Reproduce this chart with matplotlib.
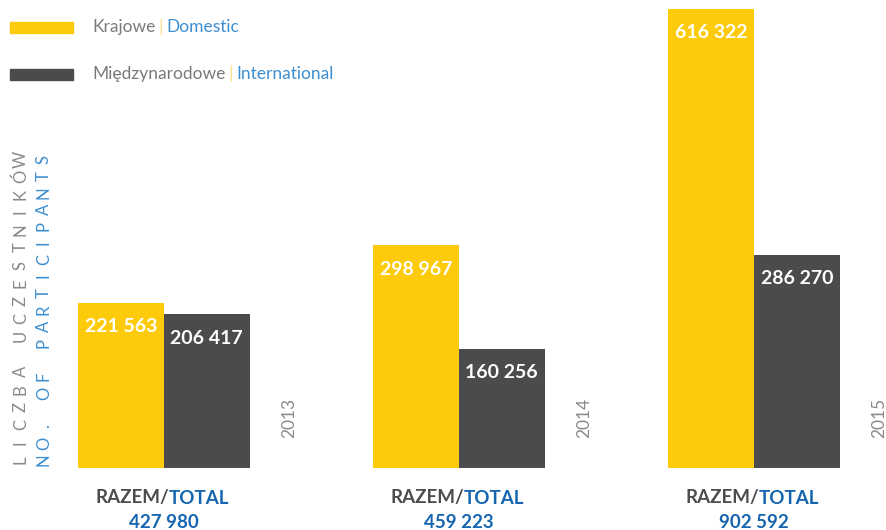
import numpy as np
import matplotlib as mpl
mpl.use('Agg')
import matplotlib.pyplot as plt  # NOQA

years = ['2013', '2014', '2015']
domestic = [221563, 298967, 616322]
international = [206417, 160256, 286270]
totals = [427980, 459223, 902592]

YELLOW = '#fdcb0a'
DARK = '#4b4b4d'
BLUE = '#1565b0'
LIGHT_BLUE = '#3d8fd1'
GREY_TXT = '#7a7a7a'

plt.rcParams['font.family'] = ['Lato', 'DejaVu Sans']


def fmt(v):
    return f'{v:,}'.replace(',', ' ')


fig = plt.figure(figsize=(8.87, 5.30), dpi=100)
ax = fig.add_axes([0, 62 / 530, 1, 468 / 530])
ax.set_xlim(-0.556, 887 / 295 - 0.556)
ax.set_ylim(0, 628400)
ax.axis('off')

x = np.arange(len(years))
w = 0.29
b1 = ax.bar(x - w / 2, domestic, w, color=YELLOW)
b2 = ax.bar(x + w / 2, international, w, color=DARK)

for bars, vals in ((b1, domestic), (b2, international)):
    for rect, v in zip(bars, vals):
        ax.annotate(fmt(v), (rect.get_x() + rect.get_width() / 2, v),
                    xytext=(0, -24), textcoords='offset pixels',
                    ha='center', va='center', color='white',
                    fontsize=14, fontweight='bold')

for i, yr in enumerate(years):
    ax.annotate(yr, (x[i] + 0.42, 0), xytext=(1, 50),
                textcoords='offset pixels', rotation=90,
                ha='center', va='center', color='#8a8a8a',
                fontsize=12.5)
    t1 = ax.annotate('RAZEM/', (x[i], 0), xytext=(-32, -30),
                     textcoords='offset pixels', ha='center', va='center',
                     color='#4d4d4f', fontsize=13.5, fontweight='bold',
                     annotation_clip=False)
    ax.annotate('TOTAL', (1, 0.5), xycoords=t1, ha='left', va='center',
                color=BLUE, fontsize=13.5, fontweight='bold',
                annotation_clip=False)
    ax.annotate(fmt(totals[i]), (x[i], 0), xytext=(0, -54),
                textcoords='offset pixels', ha='center', va='center',
                color=BLUE, fontsize=13.5, fontweight='bold',
                annotation_clip=False)

# legend
legend_items = [(YELLOW, 'Krajowe', 'Domestic', 27),
                (DARK, 'Międzynarodowe', 'International', 74)]
for col, pl, en, yp in legend_items:
    fig.patches.append(plt.Rectangle((10 / 887, 1 - (yp + 6) / 530),
                                     63 / 887, 11 / 530, color=col,
                                     transform=fig.transFigure))
    t = fig.text(92 / 887, 1 - yp / 530, pl, color=GREY_TXT,
                 fontsize=12.5, va='center', ha='left')
    p = ax.annotate('|', (1, 0.5), xycoords=t, xytext=(3, 0),
                    textcoords='offset pixels', va='center', ha='left',
                    color='#fde08a', fontsize=12.5, annotation_clip=False)
    ax.annotate(en, (1, 0.5), xycoords=p, xytext=(3, 0),
                textcoords='offset pixels', va='center', ha='left',
                color=LIGHT_BLUE, fontsize=12.5, annotation_clip=False)

# spaced vertical axis title
for txt, xp, col in (('LICZBA UCZESTNIKÓW', 21, '#8a8a8a'),
                     ('NO. OF PARTICIPANTS', 44, LIGHT_BLUE)):
    n = len(txt)
    ys = np.linspace(460, 159, n)
    for ch, yy in zip(txt, ys):
        fig.text(xp / 887, 1 - yy / 530, ch, color=col, fontsize=12,
                 rotation=90, ha='center', va='center')

fig.savefig('out.png', dpi=100)
